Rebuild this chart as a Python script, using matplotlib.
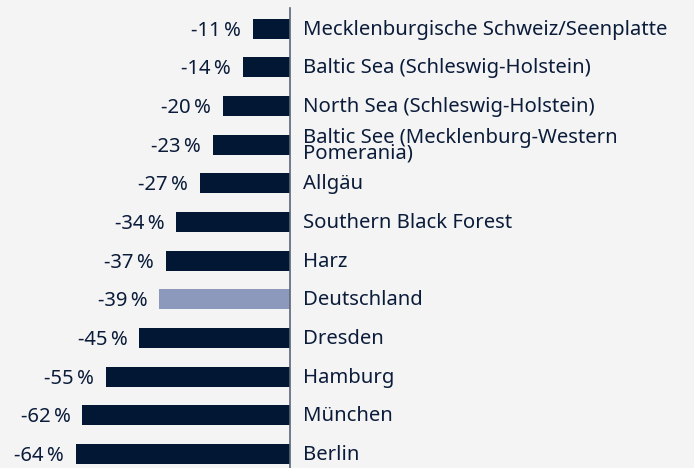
import matplotlib
matplotlib.use("Agg")
import matplotlib.pyplot as plt
from matplotlib.transforms import offset_copy

regions = [
    "Mecklenburgische Schweiz/Seenplatte",
    "Baltic Sea (Schleswig-Holstein)",
    "North Sea (Schleswig-Holstein)",
    "Baltic See (Mecklenburg-Western\nPomerania)",
    "Allgäu",
    "Southern Black Forest",
    "Harz",
    "Deutschland",
    "Dresden",
    "Hamburg",
    "München",
    "Berlin",
]
changes = [-11, -14, -20, -23, -27, -34, -37, -39, -45, -55, -62, -64]
highlight = "Deutschland"

bg = "#f4f4f4"
dark = "#011733"
light = "#8c99bc"
text_col = "#0b1c3a"

plt.rcParams["font.family"] = ["Noto Sans", "DejaVu Sans"]

fig = plt.figure(figsize=(6.94, 4.68), dpi=100, facecolor=bg)
ax = fig.add_axes([0, 0, 1, 1], facecolor=bg)

colors = [light if r == highlight else dark for r in regions]
y = list(range(len(regions)))
ax.barh(y, changes, height=0.52, color=colors, zorder=2)

ax.set_xlim(-86.6, 120.6)
ax.set_ylim(11.36, -0.74)

ax.axvline(0, ymin=0, ymax=0.983, color="#5b6679", lw=1.2, zorder=3)

left_tr = offset_copy(ax.transData, fig=fig, x=-12, y=-2, units="dots")
right_tr = offset_copy(ax.transData, fig=fig, x=13, y=-1, units="dots")
for yi, v, r in zip(y, changes, regions):
    ax.text(v, yi, f"{v}\u2009%", transform=left_tr, ha="right", va="center",
            fontsize=14.6, color=text_col)
    ax.text(0, yi, r, transform=right_tr, ha="left", va="center",
            fontsize=14.6, color=text_col, linespacing=0.72)

ax.axis("off")
fig.savefig("out.png", dpi=100, facecolor=bg)
